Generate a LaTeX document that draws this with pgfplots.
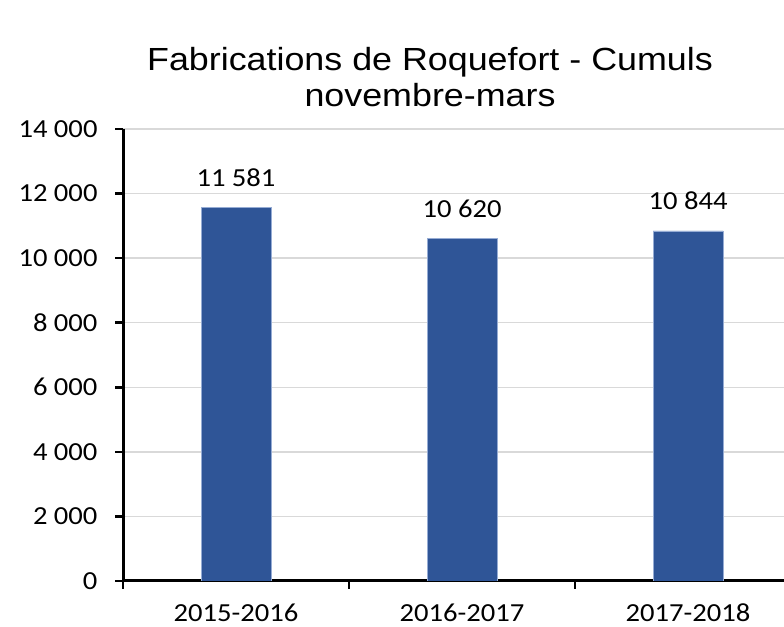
\documentclass[border=0pt]{standalone}
\usepackage{pgfplots}
\pgfplotsset{compat=1.18}
\usepackage{fontspec}
\setmainfont{Carlito}[FakeStretch=1.1]
\newfontfamily\titlefont{Liberation Sans}[FakeStretch=1.12]
\definecolor{barblue}{RGB}{47,85,151}
\definecolor{baredge}{RGB}{150,172,212}
\definecolor{gridgrey}{RGB}{217,217,217}
\begin{document}
\begin{tikzpicture}[x=1bp,y=1bp]
\useasboundingbox (0,0) rectangle (784,627);
\clip (0,0) rectangle (784,627);
\node[align=center, font=\titlefont\fontsize{32bp}{36bp}\selectfont] at (430,550) {Fabrications de Roquefort - Cumuls\\novembre-mars};
\begin{axis}[
  at={(123bp,46bp)}, anchor=south west,
  scale only axis, width=678bp, height=452bp,
  xmin=-0.5, xmax=2.5, ymin=0, ymax=14000,
  axis x line*=bottom, axis y line*=left,
  axis line style={-, line width=3bp, black},
  ytick={0,2000,...,14000},
  scaled y ticks=false,
  ymajorgrids, grid style={gridgrey, line width=1.5bp},
  xtick={-0.5,0.5,1.5,2.5}, xticklabels={},
  extra x ticks={0,1,2},
  extra x tick labels={2015-2016,2016-2017,2017-2018},
  extra x tick style={major tick length=0pt, grid=none, xticklabel style={yshift=-19bp}},
  tick align=outside, major tick length=8bp,
  major tick style={black, line width=2.5bp},
  ticklabel style={font=\fontsize{26bp}{29bp}\selectfont},
  yticklabel style={xshift=-14bp},
  /pgf/number format/assume math mode=true,
  /pgf/number format/.cd, 1000 sep={\ },
  /pgfplots/.cd,
  ybar, bar width=70bp,
  nodes near coords,
  nodes near coords style={font=\fontsize{26bp}{29bp}\selectfont, anchor=base, yshift=21bp, /pgf/number format/1000 sep={\ }},
]
\addplot[fill=barblue, draw=baredge, line width=0.6bp] coordinates {(0,11581) (1,10620) (2,10844)};
\end{axis}
\end{tikzpicture}
\end{document}
